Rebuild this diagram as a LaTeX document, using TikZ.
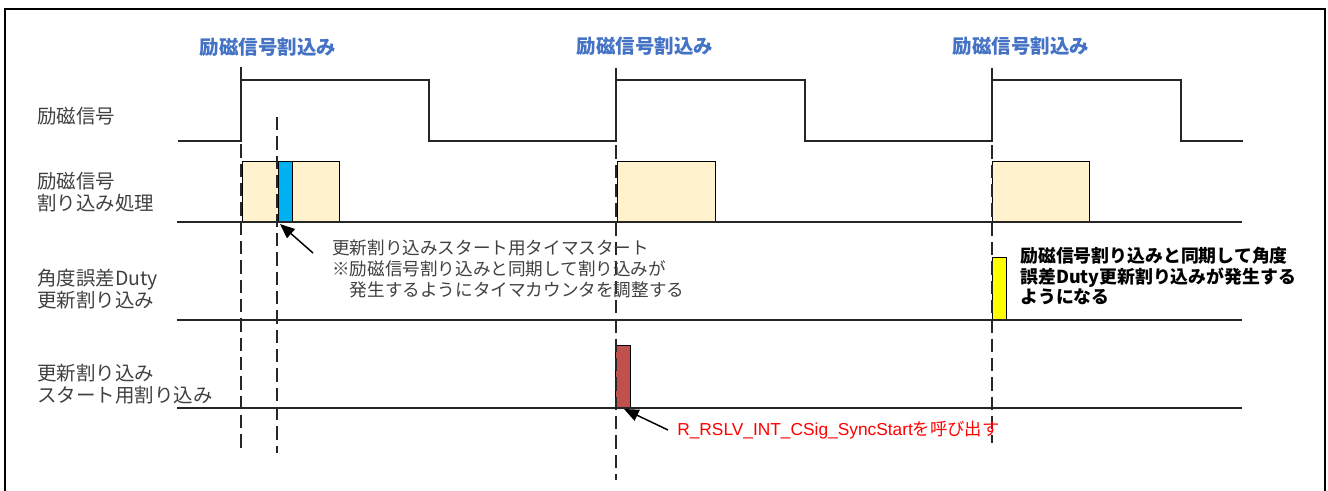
\documentclass[tikz,border=0pt]{standalone}
\usepackage{fontspec}
\setmainfont{Noto Sans CJK JP}
\newfontfamily\arialf{Liberation Sans}
\usetikzlibrary{arrows.meta}
\definecolor{hdblue}{HTML}{4472C4}
\definecolor{boxtan}{HTML}{FFF2CC}
\definecolor{boxblue}{HTML}{00B0F0}
\definecolor{boxyellow}{HTML}{FFFF00}
\definecolor{boxred}{HTML}{C0504D}
\definecolor{txtred}{HTML}{FF0000}
\definecolor{lbl}{HTML}{404040}
\begin{document}
\begin{tikzpicture}[x=0.75pt,y=-0.75pt,
  frame/.style={line width=2.2pt,black},
  sig/.style={line width=1.1pt,black!85},
  base/.style={line width=1.1pt,black!85},
  pbox/.style={draw=black,line width=1.1pt},
  dline/.style={line width=1.1pt,black!85,dash pattern=on 10pt off 4.5pt},
  heading/.style={text=hdblue,font=\fontsize{14.6}{17}\selectfont\bfseries,inner sep=0pt},
  rowlabel/.style={text=lbl,font=\fontsize{14.6}{16.5}\selectfont,align=left,anchor=west,inner sep=0pt},
  note/.style={text=lbl,font=\fontsize{13.2}{15.6}\selectfont,align=left,anchor=west,inner sep=0pt},
  boldnote/.style={text=black,font=\fontsize{13.4}{15.6}\selectfont\bfseries,align=left,anchor=west,inner sep=0pt},
  rednote/.style={text=txtred,font=\fontsize{13}{15.6}\selectfont,anchor=west,inner sep=0pt},
  callout/.style={line width=1.1pt,black,-{Triangle[length=11pt,width=9pt]}}
]
\useasboundingbox (0,0) rectangle (1328,491);
% frame (bottom edge lies outside the picture)
\draw[frame] (5,495) -- (5,9) -- (1325,9) -- (1325,495);

% headings
\node[heading] (h1) at (268,47) {励磁信号割込み};
\node[heading] (h2) at (645,46) {励磁信号割込み};
\node[heading] (h3) at (1021,46) {励磁信号割込み};

% row labels
\node[rowlabel] (l1) at (37,116) {励磁信号};
\node[rowlabel] (l2) at (37,192) {励磁信号\\割り込み処理};
\node[rowlabel] (l3) at (37,289) {角度誤差Duty\\更新割り込み};
\node[rowlabel] (l4) at (37,384) {更新割り込み\\スタート用割り込み};

% excitation signal
\draw[sig] (178,141) -- (241,141) -- (241,80) -- (429,80) -- (429,141) -- (616,141)
  -- (616,80) -- (805,80) -- (805,141) -- (992,141) -- (992,80) -- (1181,80)
  -- (1181,141) -- (1243,141);

% processing boxes
\node[pbox,fill=boxtan,minimum width=97*0.75pt,minimum height=60*0.75pt,anchor=south west,inner sep=0pt] (p1) at (242,222) {};
\node[pbox,fill=boxblue,minimum width=14*0.75pt,minimum height=60*0.75pt,anchor=south west,inner sep=0pt] (pb) at (278,222) {};
\node[pbox,fill=boxtan,minimum width=98*0.75pt,minimum height=60*0.75pt,anchor=south west,inner sep=0pt] (p2) at (617,222) {};
\node[pbox,fill=boxtan,minimum width=97*0.75pt,minimum height=60*0.75pt,anchor=south west,inner sep=0pt] (p3) at (992,222) {};
\node[pbox,fill=boxyellow,minimum width=14*0.75pt,minimum height=62*0.75pt,anchor=south west,inner sep=0pt] (y1) at (992,320) {};
\node[pbox,fill=boxred,minimum width=15*0.75pt,minimum height=62*0.75pt,anchor=south west,inner sep=0pt] (r1) at (615,408) {};

% baselines
\draw[base] (177,222) -- (1242,222);
\draw[base] (177,320) -- (1242,320);
\draw[base] (177,408) -- (1242,408);

% dashed markers
\coordinate (d1t) at (241,67);  \coordinate (d1b) at (241,450);
\coordinate (d2t) at (277,117); \coordinate (d2b) at (277,453);
\coordinate (d3t) at (616,68);  \coordinate (d3b) at (616,480);
\coordinate (d4t) at (992,68);  \coordinate (d4b) at (992,443);
\draw[dline] (d1t) -- (d1b);
\draw[dline] (d2t) -- (d2b);
\draw[dline] (d3t) -- (d3b);
\draw[dline] (d4t) -- (d4b);

% notes
\node[note] (n1) at (332,269) {更新割り込みスタート用タイマスタート\\※励磁信号割り込みと同期して割り込みが\\　発生するようにタイマカウンタを調整する};
\node[boldnote] (n2) at (1020,276) {励磁信号割り込みと同期して角度\\誤差Duty更新割り込みが発生する\\ようになる};
\node[rednote] (n3) at (677,430) {{\arialf R\_RSLV\_INT\_CSig\_SyncStart}を呼び出す};

% callout arrows
\coordinate (a1s) at (313,253); \coordinate (a1e) at (280,224);
\coordinate (a2s) at (668,430); \coordinate (a2e) at (624,409);
\draw[callout] (a1s) -- (a1e);
\draw[callout] (a2s) -- (a2e);
\end{tikzpicture}
\end{document}
